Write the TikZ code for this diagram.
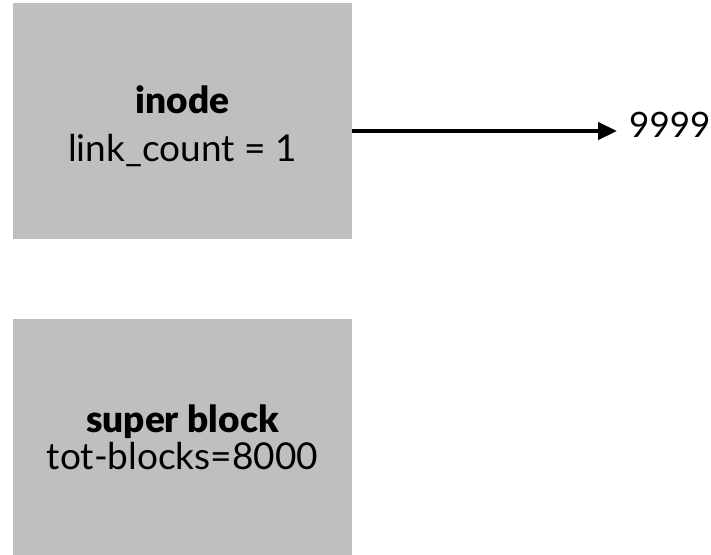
\documentclass[tikz,border=0pt]{standalone}
\usepackage{fontspec}
\setmainfont[BoldFont={Lato Black}]{Lato}
\usetikzlibrary{arrows.meta}
\definecolor{boxgray}{HTML}{BFBFBF}
\begin{document}
\begin{tikzpicture}[x=1pt,y=-1pt,
  block/.style={fill=boxgray, draw=none, minimum width=339pt, minimum height=236pt, align=center, inner sep=0pt, font=\fontsize{37}{44}\selectfont},
  pointer/.style={-{Triangle[length=19pt,width=17pt]}, line width=4.5pt}]
  \useasboundingbox (0,0) rectangle (711,554);
  \node [block](inode) at (182.5,121){\rule{0pt}{38pt}\textbf{inode}\\[4pt]link\_count = 1};
  \node [block](super) at (182.5,437){\textbf{super block}\\[-7pt]tot-blocks=8000};
  \node [anchor=base west, inner sep=0pt, font=\fontsize{35}{40}\selectfont](val) at (629,137){9999};
  \draw [pointer] (inode.east |- 0,131) -- ([xshift=-12pt,yshift=6pt]val.base west);
\end{tikzpicture}
\end{document}
